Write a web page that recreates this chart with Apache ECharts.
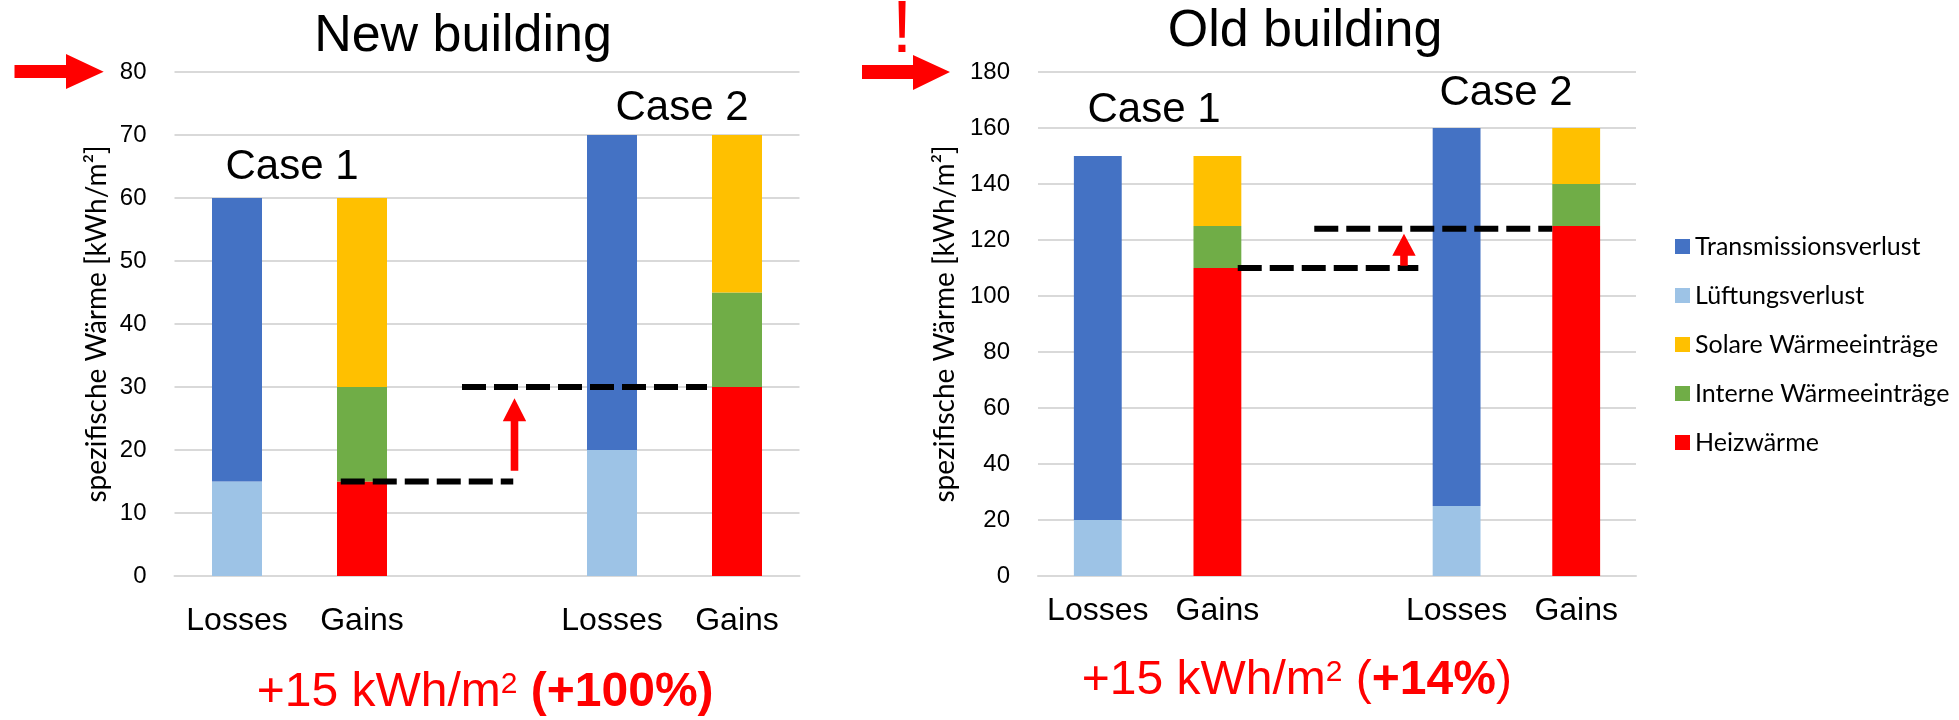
<!DOCTYPE html>
<html>
<head>
<meta charset="utf-8">
<script src="https://cdn.jsdelivr.net/npm/echarts@6/dist/echarts.min.js"></script>
<style>
html,body{margin:0;padding:0;background:#fff;}
#chart{width:1959px;height:720px;}
</style>
</head>
<body>
<div id="chart"></div>
<script>
// ---- data ----
const categories = ['Losses', 'Gains', '', 'Losses', 'Gains'];
const seriesNames = ['Transmissionsverlust', 'Lüftungsverlust', 'Solare Wärmeeinträge', 'Interne Wärmeeinträge', 'Heizwärme'];
const seriesColors = ['#4472C4', '#9DC3E6', '#FFC000', '#70AD47', '#FF0000'];

// New building (Case 1: cols 0-1, Case 2: cols 3-4)
const newTransmission = [45, null, null, 50, null];
const newLueftung     = [15, null, null, 20, null];
const newSolar        = [null, 30, null, null, 25];
const newIntern       = [null, 15, null, null, 15];
const newHeiz         = [null, 15, null, null, 30];

// Old building
const oldTransmission = [130, null, null, 135, null];
const oldLueftung     = [20, null, null, 25, null];
const oldSolar        = [null, 25, null, null, 20];
const oldIntern       = [null, 15, null, null, 15];
const oldHeiz         = [null, 110, null, null, 125];

const newTicks = [0, 80, 10];
const oldTicks = [0, 180, 20];

// reference levels (heating demand): [xFrom, xTo, level] in category units
const newLevels = [[1.33, 2.71, 15], [2.30, 4.26, 30]];
const oldLevels = [[1.67, 3.18, 110], [2.31, 4.30, 124]];
// increase arrows: [x, from, to]
const newArrow = [[2.72, 16.7, 28.2]];
const oldArrow = [[3.06, 110.8, 122.2]];

const yName = 'spezifische Wärme [kWh/m²]';
// ---- chart ----
const ARIAL = "'Liberation Sans', Arial, sans-serif";
const CAL = "Lato, 'Open Sans', sans-serif";

const chart = echarts.init(document.getElementById('chart'), null, {renderer: 'canvas'});

function barSeries(name, data, gridIdx, color) {
  return {
    name: name, type: 'bar', stack: 'g' + gridIdx,
    xAxisIndex: gridIdx, yAxisIndex: gridIdx,
    data: data, barWidth: '40%',
    itemStyle: {color: color},
    silent: true
  };
}
function levelSeries(levels, gridIdx) {
  return levels.map(l => ({
    type: 'line', xAxisIndex: gridIdx + 2, yAxisIndex: gridIdx,
    data: [[l[0], l[2]], [l[1], l[2]]],
    symbol: 'none', silent: true, z: 5,
    lineStyle: {color: '#000', width: 6, type: [24, 8], cap: 'butt'}
  }));
}
function arrowSeries(arr, gridIdx, headLen) {
  return {
    type: 'custom', xAxisIndex: gridIdx + 2, yAxisIndex: gridIdx, silent: true, z: 6,
    data: arr,
    renderItem: function (params, api) {
      const p0 = api.coord([api.value(0), api.value(1)]);
      const p1 = api.coord([api.value(0), api.value(2)]);
      const sw = 3.8, hw = 11.7;
      const x = p0[0];
      const hb = p1[1] + headLen;
      return {
        type: 'polygon',
        shape: {points: [[x - sw, p0[1]], [x - sw, hb], [x - hw, hb], [x, p1[1]], [x + hw, hb], [x + sw, hb], [x + sw, p0[1]]]},
        style: {fill: '#FF0000'}
      };
    }
  };
}

function catAxis(gridIdx, margin) {
  return {
    type: 'category', gridIndex: gridIdx, data: categories,
    axisLine: {show: true, lineStyle: {color: '#d9d9d9', width: 2}},
    axisTick: {show: false},
    axisLabel: {interval: 0, margin: margin, fontSize: 32, color: '#000', fontFamily: ARIAL}
  };
}
function overlayAxis(gridIdx) {
  return {type: 'value', gridIndex: gridIdx, min: 0, max: 5, show: false};
}
function valAxis(gridIdx, ticks, gap) {
  return {
    type: 'value', gridIndex: gridIdx, min: ticks[0], max: ticks[1], interval: ticks[2],
    name: yName, nameLocation: 'middle', nameGap: gap, nameRotate: 90,
    nameTextStyle: {fontSize: 28, color: '#000', fontFamily: CAL},
    axisLine: {show: false}, axisTick: {show: false},
    axisLabel: {fontSize: 24, color: '#000', margin: 28, fontFamily: ARIAL},
    splitLine: {lineStyle: {color: '#d9d9d9', width: 2}}
  };
}

const series = [];
[[newLueftung, 1], [newTransmission, 0], [newHeiz, 4], [newIntern, 3], [newSolar, 2]].forEach(d => series.push(barSeries(seriesNames[d[1]], d[0], 0, seriesColors[d[1]])));
[[oldLueftung, 1], [oldTransmission, 0], [oldHeiz, 4], [oldIntern, 3], [oldSolar, 2]].forEach(d => series.push(barSeries(seriesNames[d[1]], d[0], 1, seriesColors[d[1]])));
series.push(...levelSeries(newLevels, 0));
series.push(...levelSeries(oldLevels, 1));
series.push(arrowSeries(newArrow, 0, 23));
series.push(arrowSeries(oldArrow, 1, 22));

function txt(text, x, y, size, color, extra) {
  return Object.assign({
    type: 'text', x: x, y: y, silent: true,
    style: {text: text, fontSize: size, fontFamily: ARIAL, fill: color || '#000', align: 'center', verticalAlign: 'middle'}
  }, extra || {});
}
const richStyles = {
  n: {fontSize: 48, fill: '#FF0000', fontFamily: ARIAL, lineHeight: 52},
  s: {fontSize: 30, fill: '#FF0000', fontFamily: ARIAL, lineHeight: 52, verticalAlign: 'top', padding: [3, 0, 0, 0]},
  b: {fontSize: 48, fill: '#FF0000', fontFamily: ARIAL, fontWeight: 'bold', lineHeight: 52}
};

const option = {
  animation: false,
  backgroundColor: '#fff',
  grid: [
    {left: 174.5, top: 72, width: 625, height: 504},
    {left: 1038, top: 72, width: 598, height: 504}
  ],
  xAxis: [catAxis(0, 29), catAxis(1, 19), overlayAxis(0), overlayAxis(1)],
  yAxis: [valAxis(0, newTicks, 64), valAxis(1, oldTicks, 79)],
  legend: {
    orient: 'vertical', left: 1670, top: 229,
    data: seriesNames, icon: 'rect', itemWidth: 15, itemHeight: 15, itemGap: 24,
    textStyle: {fontSize: 25, lineHeight: 25, color: '#000', fontFamily: CAL},
    selectedMode: false
  },
  series: series,
  graphic: [
    txt('New building', 463, 37, 52),
    txt('Old building', 1305, 32, 52),
    txt('Case 1', 292, 167, 42),
    txt('Case 2', 682, 108.6, 42),
    txt('Case 1', 1154, 110.3, 42),
    txt('Case 2', 1506, 93.6, 42),
    txt('!', 902, 32, 74, '#FF0000'),
    {type: 'polygon', silent: true, shape: {points: [[14.5, 65], [66, 65], [66, 54], [103.7, 71.7], [66, 89], [66, 78], [14.5, 78]]}, style: {fill: '#FF0000'}},
    {type: 'polygon', silent: true, shape: {points: [[862, 65], [913, 65], [913, 55], [950, 72], [913, 90], [913, 79], [862, 79]]}, style: {fill: '#FF0000'}},
    {type: 'text', x: 256.7, y: 693, silent: true, style: {
      text: '{n|+15 kWh/m}{s|2}{n| }{b|(+100%)}',
      align: 'left', verticalAlign: 'middle', fill: '#FF0000', fontFamily: ARIAL, fontSize: 48,
      rich: richStyles
    }},
    {type: 'text', x: 1081.7, y: 681, silent: true, style: {
      text: '{n|+15 kWh/m}{s|2}{n| (}{b|+14%}{n|)}',
      align: 'left', verticalAlign: 'middle', fill: '#FF0000', fontFamily: ARIAL, fontSize: 48,
      rich: richStyles
    }}
  ]
};
chart.setOption(option);
</script>
</body>
</html>
